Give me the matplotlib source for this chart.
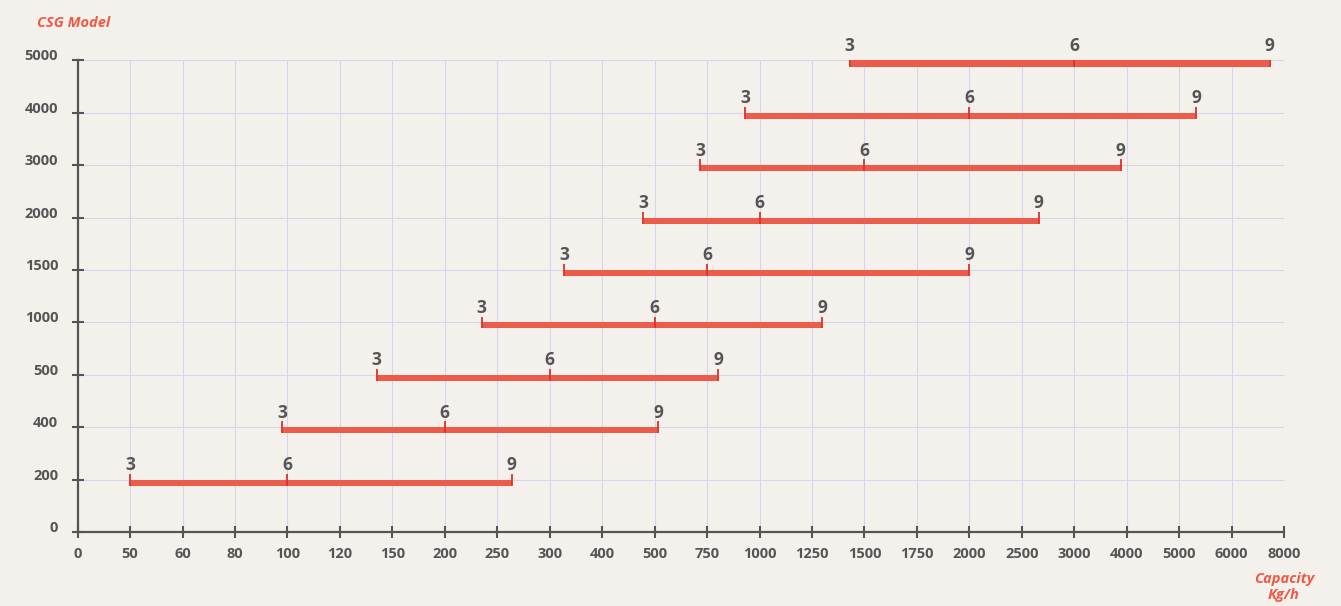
import matplotlib.pyplot as plt
import numpy as np

plt.rcParams['font.family'] = ['Open Sans', 'DejaVu Sans']

# 数据：横轴刻度（非线性，等距显示）、型号、3/6/9 三个点对应的产能
capacity_ticks = [0, 50, 60, 80, 100, 120, 150, 200, 250, 300, 400, 500, 750,
                  1000, 1250, 1500, 1750, 2000, 2500, 3000, 4000, 5000, 6000, 8000]
models = [200, 400, 500, 1000, 1500, 2000, 3000, 4000, 5000]
model_labels = ['0'] + [str(m) for m in models]
cap_3 = [50, 98, 141, 235, 327, 478, 717, 932, 1430]
cap_6 = [100, 200, 300, 500, 750, 1000, 1500, 2000, 3000]
cap_9 = [264, 517, 802, 1300, 2000, 2660, 3890, 5330, 7460]
point_labels = ['3', '6', '9']

bg = '#f4f1ed'
red = '#ec5c4a'
mark_red = '#e0302a'
gray = '#555555'

# 横轴按刻度分段等距
tick_idx = np.arange(len(capacity_ticks))


def forward(x):
    return np.interp(x, capacity_ticks, tick_idx)


def inverse(x):
    return np.interp(x, tick_idx, capacity_ticks)


fig = plt.figure(figsize=(13.41, 6.06), dpi=100, facecolor=bg)
ax = fig.add_axes([0.0579, 0.1221, 0.8996, 0.7781])
ax.set_facecolor(bg)

ax.set_xscale('function', functions=(forward, inverse))
ax.set_xlim(0, 8000)
ax.set_ylim(0, len(models))
ax.set_xticks(capacity_ticks)
ax.set_xticklabels([str(t) for t in capacity_ticks])
ax.set_yticks(range(len(model_labels)))
ax.set_yticklabels(model_labels)

# 网格线
ax.grid(True, color='#d6d6ea', linewidth=0.8)
ax.set_axisbelow(True)

# 绘制产能区间条
ypos = np.arange(1, len(models) + 1)
bar_h = 0.115
ax.barh(ypos - bar_h, width=np.array(cap_9) - np.array(cap_3), left=cap_3,
        height=bar_h, align='edge', color=red, zorder=3)

# 3/6/9 标记和文字
for vals, lab in zip([cap_3, cap_6, cap_9], point_labels):
    ax.vlines(vals, ypos - bar_h, ypos + 0.11, color=mark_red, linewidth=1.3, zorder=4)
    for x, y in zip(vals, ypos):
        ax.text(x, y + 0.185, lab, ha='center', va='baseline', fontsize=12.5,
                fontweight='bold', color=gray)

# 坐标轴样式
for side in ['top', 'right']:
    ax.spines[side].set_visible(False)
for side in ['left', 'bottom']:
    ax.spines[side].set_color(gray)
    ax.spines[side].set_linewidth(1.6)
ax.tick_params(axis='both', direction='inout', length=8, width=1.5,
               color=gray, labelcolor=gray, labelsize=10.5)
ax.tick_params(axis='x', pad=7)
ax.tick_params(axis='y', pad=10)
for lbl in ax.get_xticklabels() + ax.get_yticklabels():
    lbl.set_fontweight('bold')
for lbl in ax.get_yticklabels():
    lbl.set_verticalalignment('baseline')

# 轴标题
fig.text(37 / 1341, 1 - 23 / 606, 'CSG Model', ha='left', va='center',
         fontsize=10.5, fontstyle='italic', fontweight='bold', color='#ee5a45')
fig.text(1284 / 1341, 1 - 587 / 606, 'Capacity\nKg/h', ha='center', va='center',
         fontsize=10.5, fontstyle='italic', fontweight='bold', color='#ee5a45',
         linespacing=1.25)

fig.savefig('out.png', dpi=100, facecolor=bg)
